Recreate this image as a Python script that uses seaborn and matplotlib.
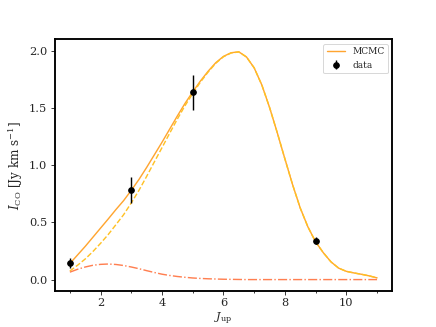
import numpy as np
import pandas as pd
import seaborn as sns
import matplotlib
matplotlib.use("Agg")
import matplotlib.pyplot as plt
from matplotlib.ticker import MultipleLocator

# observed CO line fluxes
j_data = [1, 3, 5, 9]
flux_data = [0.145, 0.78, 1.635, 0.34]
flux_err = [0.045, 0.115, 0.155, 0.032]

# MCMC model curves
j_model = [1.0, 1.25, 1.5, 1.75, 2.0, 2.25, 2.5, 2.75, 3.0, 3.25, 3.5, 3.75,
           4.0, 4.25, 4.5, 4.75, 5.0, 5.25, 5.5, 5.75, 6.0, 6.25, 6.5, 6.75,
           7.0, 7.25, 7.5, 7.75, 8.0, 8.25, 8.5, 8.75, 9.0, 9.25, 9.5, 9.75,
           10.0, 10.25, 10.5, 10.75, 11.0]
total = [0.14, 0.215, 0.29, 0.37, 0.45, 0.53, 0.612, 0.69, 0.78, 0.875, 0.98,
         1.09, 1.2, 1.315, 1.43, 1.54, 1.64, 1.735, 1.82, 1.895, 1.95, 1.982,
         1.99, 1.945, 1.85, 1.70, 1.505, 1.285, 1.055, 0.83, 0.625, 0.46,
         0.33, 0.235, 0.155, 0.10, 0.072, 0.058, 0.046, 0.032, 0.015]
low = [0.065, 0.09, 0.11, 0.125, 0.133, 0.136, 0.132, 0.123, 0.11, 0.095,
       0.078, 0.062, 0.047, 0.036, 0.027, 0.02, 0.014, 0.01, 0.007, 0.005,
       0.003, 0.002, 0.001, 0.0, 0.0, 0.0, 0.0, 0.0, 0.0, 0.0, 0.0, 0.0, 0.0,
       0.0, 0.0, 0.0, 0.0, 0.0, 0.0, 0.0, 0.0]
high = [0.075, 0.125, 0.18, 0.245, 0.317, 0.394, 0.48, 0.567, 0.67, 0.78,
        0.902, 1.028, 1.153, 1.279, 1.403, 1.52, 1.626, 1.725, 1.813, 1.89,
        1.947, 1.98, 1.989, 1.945, 1.85, 1.70, 1.505, 1.285, 1.055, 0.83,
        0.625, 0.46, 0.33, 0.235, 0.155, 0.10, 0.072, 0.058, 0.046, 0.032, 0.015]

df = pd.DataFrame({"J": j_model, "total": total, "low": low, "high": high})

sns.set_style("ticks")
plt.rcParams["font.family"] = ["DejaVu Serif"]
plt.rcParams["mathtext.fontset"] = "dejavuserif"

fig, ax = plt.subplots(figsize=(6.4, 4.8), dpi=68.125)

sns.lineplot(data=df, x="J", y="total", ax=ax, color="#ffa530", lw=1.5, label="MCMC")
sns.lineplot(data=df, x="J", y="high", ax=ax, color="#ffc125", lw=1.5, ls="--", label="_nolegend_")
sns.lineplot(data=df, x="J", y="low", ax=ax, color="#ff7f50", lw=1.5, ls="-.", label="_nolegend_")
ax.errorbar(j_data, flux_data, yerr=flux_err, fmt="o", color="black", ms=6,
            elinewidth=1.5, label="data")

ax.set_xlim(0.5, 11.5)
ax.set_ylim(-0.1, 2.1)
ax.xaxis.set_major_locator(MultipleLocator(2))
ax.xaxis.set_minor_locator(MultipleLocator(1))
ax.yaxis.set_major_locator(MultipleLocator(0.5))
ax.tick_params(which="both", direction="out", width=1, labelsize=12, color="#333333")
ax.tick_params(which="major", length=4)
ax.tick_params(which="minor", length=2.5)
for s in ax.spines.values():
    s.set_visible(True)
    s.set_linewidth(2)
    s.set_color("black")

ax.set_xlabel(r"$J_{\rm up}$", fontsize=12, labelpad=3)
ax.set_ylabel(r"$I_{\rm CO}$ [Jy km s$^{-1}$]", fontsize=12.5)
ax.legend(loc="upper right", fontsize=9.5, frameon=True)

plt.subplots_adjust(left=0.125, right=0.9, bottom=0.11, top=0.88)
fig.savefig("out.png", dpi=68.125)
